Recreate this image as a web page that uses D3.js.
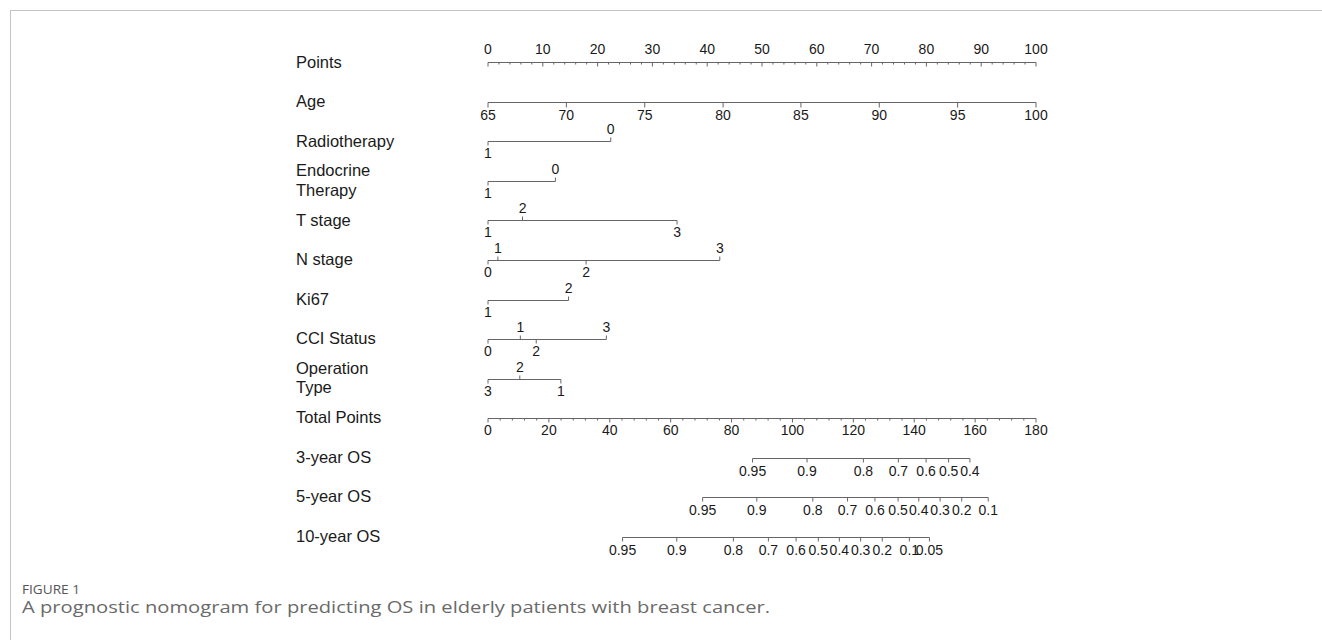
<!DOCTYPE html>
<html><head><meta charset="utf-8">
<script src="https://cdn.jsdelivr.net/npm/d3@7"></script>
<style>
html,body{margin:0;padding:0;background:#fff;}
svg{display:block;}
</style></head>
<body>
<svg id="chart" width="1322" height="640"></svg>
<script>
// ---------- DATA ----------
const rowNames = ["Points","Age","Radiotherapy","Endocrine Therapy","T stage","N stage","Ki67","CCI Status","Operation Type","Total Points","3-year OS","5-year OS","10-year OS"];
const rowLabelLines = [["Points"],["Age"],["Radiotherapy"],["Endocrine","Therapy"],["T stage"],["N stage"],["Ki67"],["CCI Status"],["Operation","Type"],["Total Points"],["3-year OS"],["5-year OS"],["10-year OS"]];

const pointsTicks = [0,10,20,30,40,50,60,70,80,90,100];
const totalTicks = [0,20,40,60,80,100,120,140,160,180];

const ageValues = [65,70,75,80,85,90,95,100];
const agePoints = [0,14.3,28.6,42.9,57.1,71.4,85.7,100];

const radioLevels = ["1","0"];
const radioPoints = [0,22.4];
const endoLevels = ["1","0"];
const endoPoints = [0,12.3];
const tLevels = ["1","2","3"];
const tPoints = [0,6.3,34.5];
const nLevels = ["0","1","2","3"];
const nPoints = [0,1.8,17.9,42.3];
const kiLevels = ["1","2"];
const kiPoints = [0,14.7];
const cciLevels = ["0","1","2","3"];
const cciPoints = [0,5.9,8.8,21.6];
const opLevels = ["3","2","1"];
const opPoints = [0,5.8,13.3];

const os3Labels = ["0.95","0.9","0.8","0.7","0.6","0.5","0.4"];
const os3Total = [86.9,104.8,123.3,134.8,143.9,151.3,158.3];
const os5Labels = ["0.95","0.9","0.8","0.7","0.6","0.5","0.4","0.3","0.2","0.1"];
const os5Total = [70.5,88.3,106.7,118.1,127.1,134.7,141.5,148.5,155.6,164.3];
const os10Labels = ["0.95","0.9","0.8","0.7","0.6","0.5","0.4","0.3","0.2","0.1","0.05"];
const os10Total = [44.2,62.0,80.6,92.1,101.2,108.5,115.4,122.4,129.5,138.4,145.0];

// ---------- LAYOUT ----------
const svg = d3.select("#chart");
const X0 = 488, X1 = 1036;
const xPts = d3.scaleLinear().domain([0,100]).range([X0,X1]);
const xTot = d3.scaleLinear().domain([0,180]).range([X0,X1]);
const yRow = d3.scalePoint().domain(rowNames).range([62.3,536.7]);

const lineCol = "#666", textCol = "#1a1a1a";
const font = "'Liberation Sans', Arimo, Arial, sans-serif";

// frame
svg.append("line").attr("x1",10).attr("x2",1322).attr("y1",10.5).attr("y2",10.5).attr("stroke","#c4c4c4");
svg.append("line").attr("x1",10.5).attr("x2",10.5).attr("y1",10).attr("y2",640).attr("stroke","#c4c4c4");

const g = svg.append("g");

// row labels
rowNames.forEach((r,i)=>{
  const lines = rowLabelLines[i];
  const y = yRow(r);
  const t = g.append("text").attr("x",296).attr("font-family",font).attr("font-size",16.5).attr("fill",textCol);
  if (lines.length===1) {
    t.attr("y", y+5.3).text(lines[0]);
  } else {
    t.append("tspan").attr("x",296).attr("y",y-4.7).text(lines[0]);
    t.append("tspan").attr("x",296).attr("y",y+14.7).text(lines[1]);
  }
});

function hline(x1,x2,y){
  g.append("line").attr("x1",x1).attr("x2",x2).attr("y1",y+0.5).attr("y2",y+0.5)
   .attr("stroke",lineCol).attr("stroke-width",1);
}
function tick(x,y,len){
  g.append("line").attr("x1",x).attr("x2",x).attr("y1",y+0.5).attr("y2",y+0.5+len)
   .attr("stroke",lineCol).attr("stroke-width",1);
}
function label(x,y,txt){
  g.append("text").attr("x",x).attr("y",y).attr("text-anchor","middle")
   .attr("font-family",font).attr("font-size",14).attr("fill",textCol).text(txt);
}

// Points axis
{
  const y = Math.round(yRow("Points"));
  hline(xPts(0), xPts(100), y);
  d3.range(0,100.001,2).forEach(v=>{ tick(xPts(v), y, v%10===0 ? 4 : 2); });
  pointsTicks.forEach(v=> label(xPts(v), y-8, String(v)));
}

// Age axis
{
  const y = Math.round(yRow("Age"));
  hline(xPts(d3.min(agePoints)), xPts(d3.max(agePoints)), y);
  ageValues.forEach((v,i)=>{ tick(xPts(agePoints[i]), y, 5); label(xPts(agePoints[i]), y+18, String(v)); });
}

// categorical rows
function catRow(name, levels, pts){
  const y = Math.round(yRow(name));
  hline(xPts(d3.min(pts)), xPts(d3.max(pts)), y);
  const order = d3.range(levels.length).sort((a,b)=>pts[a]-pts[b]);
  order.forEach((idx,k)=>{
    const x = xPts(pts[idx]);
    if (k%2===0) { tick(x,y,4); label(x, y+17, levels[idx]); }
    else { tick(x,y,-4); label(x, y-7.5, levels[idx]); }
  });
}
catRow("Radiotherapy", radioLevels, radioPoints);
catRow("Endocrine Therapy", endoLevels, endoPoints);
catRow("T stage", tLevels, tPoints);
catRow("N stage", nLevels, nPoints);
catRow("Ki67", kiLevels, kiPoints);
catRow("CCI Status", cciLevels, cciPoints);
catRow("Operation Type", opLevels, opPoints);

// Total points axis
{
  const y = Math.round(yRow("Total Points"));
  hline(xTot(0), xTot(180), y);
  d3.range(0,180.001,4).forEach(v=>{ tick(xTot(v), y, v%20===0 ? 4 : 2); });
  totalTicks.forEach(v=> label(xTot(v), y+17, String(v)));
}

// OS rows
function osRow(name, labels, totals){
  const y = Math.round(yRow(name));
  hline(xTot(d3.min(totals)), xTot(d3.max(totals)), y);
  totals.forEach((v,i)=>{ tick(xTot(v), y, 4); label(xTot(v), y+18, labels[i]); });
}
osRow("3-year OS", os3Labels, os3Total);
osRow("5-year OS", os5Labels, os5Total);
osRow("10-year OS", os10Labels, os10Total);

// caption
svg.append("text").attr("x",22).attr("y",594).attr("font-family","'Open Sans', sans-serif")
  .attr("font-size",12.5).attr("fill","#555").attr("textLength",58).attr("lengthAdjust","spacingAndGlyphs")
  .text("FIGURE 1");
svg.append("text").attr("x",22).attr("y",613).attr("font-family","'Open Sans', sans-serif")
  .attr("font-size",17).attr("fill","#6a6a6a").attr("textLength",748).attr("lengthAdjust","spacingAndGlyphs")
  .text("A prognostic nomogram for predicting OS in elderly patients with breast cancer.");
</script>
</body></html>
